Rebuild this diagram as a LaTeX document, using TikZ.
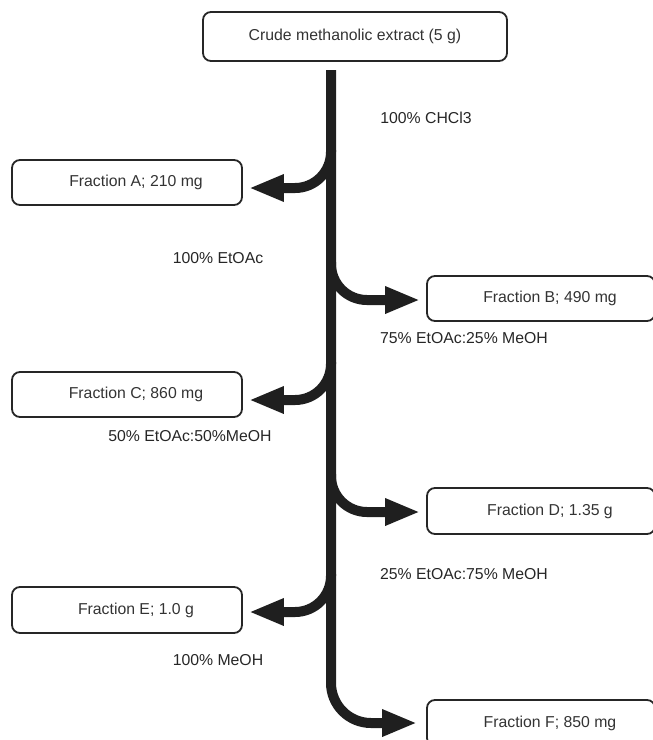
\documentclass[tikz,border=0pt]{standalone}
\usepackage{fontspec}
\setmainfont{Liberation Sans}
\usetikzlibrary{arrows.meta, calc}

\begin{document}
\begin{tikzpicture}[
    x=1pt, y=-1pt,
    box/.style={rectangle, rounded corners=8pt, draw=black!85, line width=1.8pt,
                font=\fontsize{15.8}{18}\selectfont, text=black!80, inner sep=0pt},
    frac/.style={box, execute at begin node={\hspace*{18pt}}},
    lbl/.style={font=\fontsize{15.8}{18}\selectfont, text=black!85, inner sep=0pt},
    flow/.style={line width=10pt, draw=black!88,
                 -{Triangle[length=35pt, width=25pt]}, rounded corners=36pt}
  ]
  \useasboundingbox (0,0) rectangle (653,740);
  \clip (0,0) rectangle (653,740);

  % boxes
  \node[box, minimum width=304pt, minimum height=49pt] (crude) at (355,36.5)
        {Crude methanolic extract (5 g)};
  \node[frac, minimum width=230pt, minimum height=45pt] (fA) at (127,182.5) {Fraction A; 210 mg};
  \node[frac, minimum width=228pt, minimum height=45pt] (fB) at (541,298.5) {Fraction B; 490 mg};
  \node[frac, minimum width=230pt, minimum height=45pt] (fC) at (127,394.5) {Fraction C; 860 mg};
  \node[frac, minimum width=228pt, minimum height=46pt] (fD) at (541,511) {Fraction D; 1.35 g};
  \node[frac, minimum width=230pt, minimum height=46pt] (fE) at (127,610) {Fraction E; 1.0 g};
  \node[frac, minimum width=228pt, minimum height=46pt] (fF) at (541,723) {Fraction F; 850 mg};

  % solvents
  \node[lbl] (sol1) at (426,118) {100\% CHCl3};
  \node[lbl] (sol2) at (218,258) {100\% EtOAc};
  \node[lbl] (sol3) at (464,338) {75\% EtOAc:25\% MeOH};
  \node[lbl] (sol4) at (190,436) {50\% EtOAc:50\%MeOH};
  \node[lbl] (sol5) at (464,574) {25\% EtOAc:75\% MeOH};
  \node[lbl] (sol6) at (218,660) {100\% MeOH};

  % main column
  \coordinate (trunk) at (331,70);
  \draw[flow, shorten >=9pt, rounded corners=40pt] (trunk) |- (fF.west);

  % side branches
  \foreach \f/\y/\dy/\side in {fA/150/-5.5/east, fB/262/-1.5/west, fC/362/-5.5/east,
                               fD/474/-1/west, fE/574/-2/east}{
    \coordinate (s\f) at (331,\y);
    \draw[flow, shorten >=6pt] (s\f) |- ([yshift=\dy pt]\f.\side);
  }
\end{tikzpicture}
\end{document}
